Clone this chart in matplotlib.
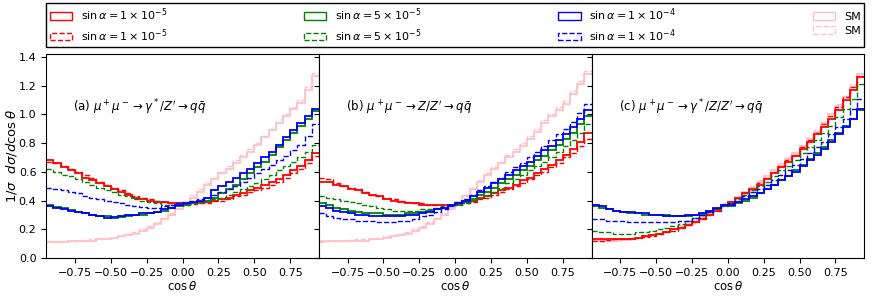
import matplotlib
matplotlib.use('Agg')
import matplotlib.pyplot as plt
from matplotlib.patches import Patch
import numpy as np

# bin edges in cos(theta)
edges = np.linspace(-0.95, 0.95, 39)

labels = [r'$\sin\alpha=1\times10^{-5}$', r'$\sin\alpha=1\times10^{-5}$',
          r'$\sin\alpha=5\times10^{-5}$', r'$\sin\alpha=5\times10^{-5}$',
          r'$\sin\alpha=1\times10^{-4}$', r'$\sin\alpha=1\times10^{-4}$',
          'SM', 'SM']
colors = ['red', 'red', 'green', 'green', 'blue', 'blue', 'pink', 'pink']
styles = ['-', '--', '-', '--', '-', '--', '-', '--']
titles = [r"(a) $\mu^+\mu^-\to\gamma^*/Z'\to q\bar{q}$",
          r"(b) $\mu^+\mu^-\to Z/Z'\to q\bar{q}$",
          r"(c) $\mu^+\mu^-\to\gamma^*/Z/Z'\to q\bar{q}$"]

# ----- panel (a) -----
a_red = [0.68, 0.66, 0.63, 0.61, 0.59, 0.56, 0.54, 0.52, 0.50, 0.48, 0.46, 0.44, 0.42, 0.41, 0.40, 0.39, 0.39, 0.38, 0.38,
         0.37, 0.38, 0.385, 0.39, 0.40, 0.41, 0.42, 0.44, 0.45, 0.47, 0.49, 0.51, 0.53, 0.55, 0.58, 0.61, 0.64, 0.68, 0.73]
a_red_d = [0.67, 0.66, 0.64, 0.62, 0.60, 0.58, 0.56, 0.53, 0.51, 0.49, 0.47, 0.45, 0.43, 0.42, 0.41, 0.40, 0.39, 0.385, 0.38,
           0.37, 0.375, 0.38, 0.385, 0.395, 0.40, 0.41, 0.43, 0.44, 0.46, 0.47, 0.49, 0.51, 0.53, 0.56, 0.59, 0.62, 0.66, 0.71]
a_grn = [0.37, 0.355, 0.345, 0.335, 0.32, 0.31, 0.30, 0.295, 0.29, 0.28, 0.285, 0.29, 0.30, 0.30, 0.31, 0.32, 0.33, 0.35, 0.36,
         0.37, 0.38, 0.39, 0.40, 0.42, 0.45, 0.48, 0.51, 0.55, 0.59, 0.63, 0.67, 0.72, 0.77, 0.82, 0.87, 0.92, 0.97, 1.02]
a_grn_d = [0.62, 0.60, 0.58, 0.57, 0.55, 0.53, 0.51, 0.49, 0.47, 0.46, 0.44, 0.43, 0.41, 0.40, 0.39, 0.38, 0.37, 0.37, 0.37,
           0.37, 0.38, 0.39, 0.40, 0.41, 0.42, 0.44, 0.46, 0.48, 0.50, 0.52, 0.55, 0.58, 0.61, 0.64, 0.67, 0.70, 0.74, 0.79]
a_blu = [0.36, 0.35, 0.34, 0.33, 0.32, 0.31, 0.30, 0.29, 0.28, 0.285, 0.29, 0.30, 0.30, 0.31, 0.31, 0.32, 0.34, 0.35, 0.37,
         0.38, 0.39, 0.40, 0.42, 0.47, 0.50, 0.53, 0.56, 0.59, 0.62, 0.66, 0.70, 0.74, 0.79, 0.84, 0.89, 0.94, 0.99, 1.04]
a_blu_d = [0.49, 0.48, 0.47, 0.46, 0.45, 0.43, 0.42, 0.41, 0.40, 0.39, 0.38, 0.37, 0.36, 0.355, 0.35, 0.35, 0.36, 0.37, 0.38,
           0.38, 0.40, 0.41, 0.42, 0.44, 0.46, 0.48, 0.50, 0.53, 0.56, 0.59, 0.62, 0.65, 0.68, 0.71, 0.75, 0.79, 0.85, 0.93]
a_sm = [0.11, 0.11, 0.11, 0.12, 0.12, 0.12, 0.12, 0.13, 0.13, 0.14, 0.15, 0.16, 0.17, 0.19, 0.21, 0.24, 0.27, 0.30, 0.34,
        0.39, 0.42, 0.46, 0.51, 0.55, 0.59, 0.62, 0.66, 0.70, 0.74, 0.79, 0.84, 0.89, 0.94, 0.99, 1.04, 1.08, 1.17, 1.27]
a_sm_d = [0.12, 0.11, 0.115, 0.115, 0.12, 0.125, 0.13, 0.13, 0.14, 0.145, 0.155, 0.17, 0.18, 0.20, 0.22, 0.25, 0.28, 0.31, 0.35,
          0.40, 0.44, 0.48, 0.52, 0.56, 0.60, 0.64, 0.68, 0.72, 0.76, 0.80, 0.85, 0.90, 0.95, 1.00, 1.05, 1.10, 1.19, 1.29]

# ----- panel (b) -----
b_red = [0.53, 0.53, 0.51, 0.50, 0.48, 0.47, 0.45, 0.44, 0.43, 0.41, 0.40, 0.39, 0.38, 0.38, 0.37, 0.37, 0.37, 0.37, 0.37,
         0.38, 0.39, 0.40, 0.42, 0.43, 0.45, 0.47, 0.49, 0.51, 0.54, 0.56, 0.59, 0.62, 0.65, 0.68, 0.72, 0.76, 0.81, 0.87]
b_red_d = [0.56, 0.55, 0.52, 0.50, 0.49, 0.48, 0.46, 0.44, 0.43, 0.42, 0.41, 0.40, 0.39, 0.38, 0.38, 0.37, 0.37, 0.37, 0.37,
           0.375, 0.38, 0.39, 0.41, 0.42, 0.44, 0.46, 0.48, 0.50, 0.52, 0.55, 0.58, 0.60, 0.63, 0.66, 0.70, 0.73, 0.78, 0.83]
b_grn = [0.38, 0.37, 0.35, 0.34, 0.33, 0.32, 0.315, 0.31, 0.31, 0.30, 0.30, 0.30, 0.31, 0.31, 0.32, 0.33, 0.34, 0.35, 0.37,
         0.37, 0.39, 0.41, 0.44, 0.46, 0.49, 0.52, 0.55, 0.58, 0.61, 0.64, 0.68, 0.71, 0.75, 0.79, 0.83, 0.87, 0.93, 0.99]
b_grn_d = [0.43, 0.42, 0.41, 0.40, 0.39, 0.38, 0.37, 0.36, 0.35, 0.34, 0.33, 0.33, 0.33, 0.33, 0.34, 0.34, 0.35, 0.36, 0.37,
           0.37, 0.38, 0.40, 0.42, 0.44, 0.46, 0.49, 0.52, 0.55, 0.58, 0.61, 0.64, 0.67, 0.70, 0.74, 0.78, 0.82, 0.87, 0.93]
b_blu = [0.36, 0.35, 0.33, 0.32, 0.31, 0.30, 0.30, 0.29, 0.29, 0.29, 0.29, 0.29, 0.30, 0.30, 0.31, 0.32, 0.34, 0.35, 0.37,
         0.38, 0.40, 0.43, 0.46, 0.49, 0.52, 0.55, 0.58, 0.61, 0.64, 0.67, 0.71, 0.75, 0.78, 0.82, 0.86, 0.91, 0.97, 1.03]
b_blu_d = [0.31, 0.29, 0.28, 0.27, 0.27, 0.26, 0.26, 0.26, 0.25, 0.25, 0.25, 0.26, 0.26, 0.27, 0.29, 0.30, 0.32, 0.34, 0.36,
           0.38, 0.41, 0.44, 0.47, 0.50, 0.53, 0.56, 0.60, 0.63, 0.66, 0.70, 0.74, 0.78, 0.82, 0.86, 0.90, 0.95, 1.01, 1.07]
b_sm = [0.12, 0.12, 0.115, 0.115, 0.12, 0.12, 0.12, 0.13, 0.13, 0.14, 0.15, 0.16, 0.17, 0.19, 0.21, 0.24, 0.27, 0.30, 0.34,
        0.39, 0.43, 0.48, 0.53, 0.58, 0.62, 0.66, 0.70, 0.74, 0.78, 0.83, 0.88, 0.94, 0.99, 1.03, 1.07, 1.14, 1.21, 1.28]
b_sm_d = [0.11, 0.115, 0.12, 0.12, 0.125, 0.13, 0.13, 0.135, 0.14, 0.15, 0.16, 0.17, 0.18, 0.20, 0.22, 0.25, 0.28, 0.31, 0.35,
          0.40, 0.44, 0.49, 0.54, 0.59, 0.63, 0.67, 0.72, 0.76, 0.80, 0.85, 0.90, 0.96, 1.00, 1.05, 1.09, 1.16, 1.23, 1.30]

# ----- panel (c) -----
c_red = [0.13, 0.13, 0.13, 0.13, 0.13, 0.135, 0.14, 0.15, 0.16, 0.17, 0.18, 0.20, 0.21, 0.23, 0.25, 0.27, 0.30, 0.33, 0.36,
         0.39, 0.42, 0.45, 0.48, 0.51, 0.55, 0.59, 0.63, 0.67, 0.71, 0.76, 0.81, 0.86, 0.91, 0.97, 1.03, 1.10, 1.17, 1.26]
c_red_d = [0.12, 0.12, 0.125, 0.13, 0.13, 0.13, 0.14, 0.145, 0.155, 0.165, 0.18, 0.19, 0.21, 0.23, 0.25, 0.27, 0.30, 0.33, 0.36,
           0.39, 0.42, 0.45, 0.48, 0.52, 0.56, 0.60, 0.64, 0.68, 0.72, 0.77, 0.82, 0.87, 0.93, 0.99, 1.05, 1.12, 1.19, 1.27]
c_grn = [0.36, 0.35, 0.34, 0.33, 0.32, 0.31, 0.31, 0.30, 0.30, 0.30, 0.30, 0.29, 0.29, 0.29, 0.30, 0.30, 0.32, 0.34, 0.36,
         0.36, 0.38, 0.40, 0.42, 0.45, 0.48, 0.51, 0.54, 0.57, 0.61, 0.65, 0.69, 0.73, 0.77, 0.82, 0.87, 0.92, 0.97, 1.03]
c_grn_d = [0.19, 0.18, 0.18, 0.17, 0.17, 0.17, 0.18, 0.18, 0.19, 0.20, 0.21, 0.22, 0.24, 0.26, 0.28, 0.30, 0.32, 0.34, 0.37,
           0.38, 0.41, 0.44, 0.47, 0.50, 0.53, 0.57, 0.61, 0.64, 0.68, 0.73, 0.77, 0.82, 0.87, 0.92, 0.98, 1.04, 1.11, 1.21]
c_blu = [0.37, 0.36, 0.34, 0.33, 0.32, 0.32, 0.31, 0.31, 0.30, 0.30, 0.29, 0.29, 0.29, 0.30, 0.30, 0.31, 0.33, 0.35, 0.37,
         0.37, 0.39, 0.41, 0.43, 0.45, 0.48, 0.51, 0.54, 0.57, 0.60, 0.64, 0.68, 0.72, 0.76, 0.81, 0.86, 0.91, 0.97, 1.04]
c_blu_d = [0.27, 0.27, 0.26, 0.26, 0.26, 0.25, 0.25, 0.25, 0.25, 0.25, 0.25, 0.25, 0.26, 0.26, 0.28, 0.30, 0.32, 0.35, 0.37,
           0.38, 0.40, 0.43, 0.46, 0.48, 0.51, 0.54, 0.58, 0.61, 0.65, 0.69, 0.73, 0.77, 0.81, 0.86, 0.91, 0.97, 1.04, 1.11]
c_sm = [0.12, 0.12, 0.12, 0.12, 0.125, 0.13, 0.14, 0.15, 0.16, 0.17, 0.18, 0.20, 0.22, 0.24, 0.26, 0.28, 0.31, 0.34, 0.37,
        0.39, 0.42, 0.46, 0.49, 0.53, 0.57, 0.61, 0.65, 0.69, 0.73, 0.78, 0.83, 0.88, 0.94, 1.00, 1.06, 1.12, 1.19, 1.28]
c_sm_d = [0.125, 0.12, 0.125, 0.13, 0.13, 0.135, 0.14, 0.15, 0.16, 0.175, 0.19, 0.20, 0.22, 0.24, 0.26, 0.29, 0.32, 0.35, 0.38,
          0.40, 0.43, 0.46, 0.50, 0.54, 0.58, 0.62, 0.66, 0.70, 0.74, 0.79, 0.84, 0.89, 0.95, 1.01, 1.07, 1.13, 1.21, 1.29]

panels = [
    [a_red, a_red_d, a_grn, a_grn_d, a_blu, a_blu_d, a_sm, a_sm_d],
    [b_red, b_red_d, b_grn, b_grn_d, b_blu, b_blu_d, b_sm, b_sm_d],
    [c_red, c_red_d, c_grn, c_grn_d, c_blu, c_blu_d, c_sm, c_sm_d],
]

plt.rcParams['font.size'] = 8
fig, axes = plt.subplots(1, 3, sharey=True, figsize=(8.72, 3.0), dpi=100)
fig.subplots_adjust(left=0.053, right=0.991, bottom=0.14, top=0.82, wspace=0)

for k, ax in enumerate(axes):
    # SM first so it sits under the others
    for i in [6, 7, 0, 1, 2, 3, 4, 5]:
        lw = 1.3 if styles[i] == '-' else 1.0
        ax.stairs(panels[k][i], edges, baseline=None, color=colors[i],
                  linestyle=styles[i], linewidth=lw)
    ax.set_xlim(-0.95, 0.95)
    ax.set_ylim(0, 1.42)
    ax.set_xticks([-0.75, -0.5, -0.25, 0, 0.25, 0.5, 0.75])
    ax.set_xlabel(r'$\cos\theta$', fontsize=8.5, labelpad=2)
    ax.text(0.1, 0.72, titles[k], transform=ax.transAxes, fontsize=8.5)

axes[0].set_ylabel(r'$1/\sigma\ \ d\sigma/d\cos\theta$', fontsize=9.5)
axes[0].yaxis.set_label_coords(-0.1, 0.5)

# legend uses open rectangles like histogram step patches
handles = [Patch(fill=False, edgecolor=c, linestyle=s, linewidth=1.0)
           for c, s in zip(colors, styles)]
fig.legend(handles, labels, ncol=4, mode='expand', loc='lower left',
           bbox_to_anchor=(0.053, 0.843, 0.938, 0.14), fontsize=8,
           edgecolor='black', fancybox=False, framealpha=1,
           handlelength=2.0, borderaxespad=0, borderpad=0.3,
           labelspacing=0.35)

fig.savefig('out.png', dpi=100)
